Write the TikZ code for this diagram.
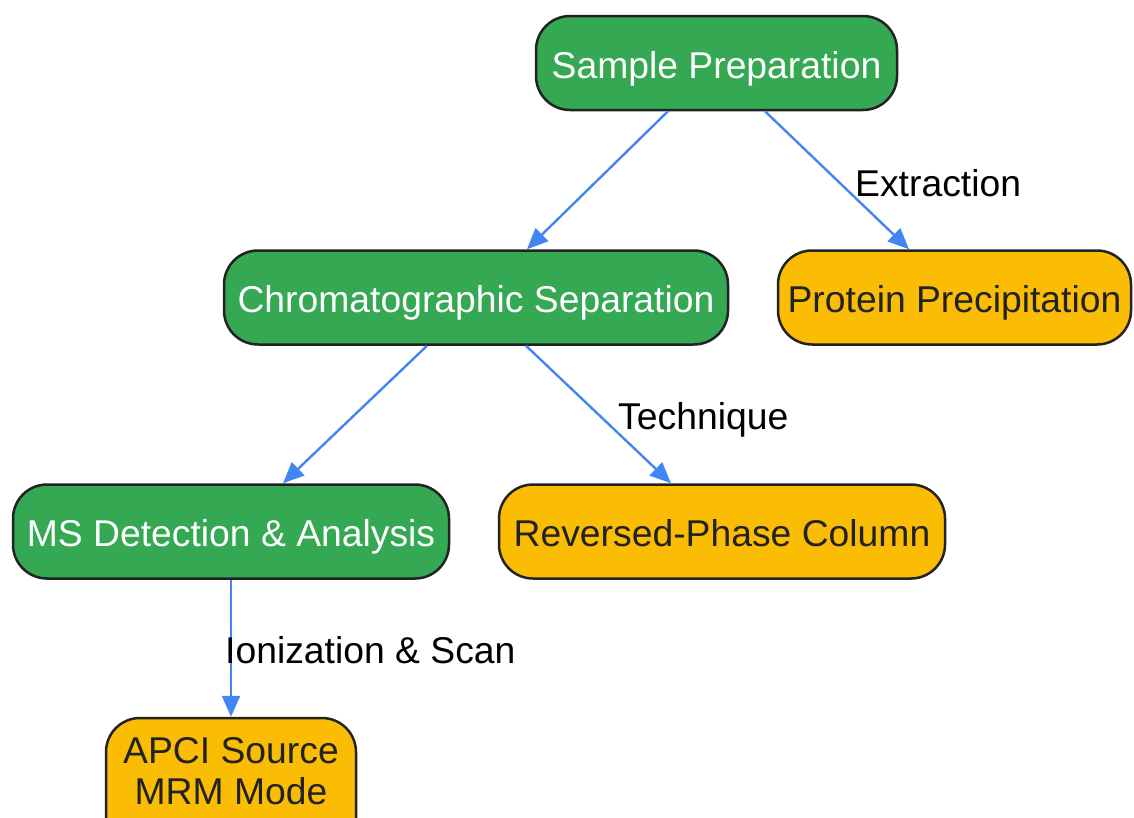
\documentclass[tikz,border=0pt]{standalone}
\usepackage{fontspec}
\setmainfont{Liberation Sans}
\usetikzlibrary{arrows.meta}
\definecolor{stepgreen}{HTML}{34A853}
\definecolor{stepyellow}{HTML}{FBBC04}
\definecolor{linkblue}{HTML}{4285F4}
\definecolor{edgedark}{HTML}{222222}
\tikzset{
	greenbox/.style={draw=edgedark, line width=2.5pt, fill=stepgreen, text=white, rounded corners=34pt, minimum height=94pt, inner sep=0pt, align=center, text height=35.4pt, text depth=4.8pt},
	yellowbox/.style={greenbox, fill=stepyellow, text=edgedark},
	link/.style={draw=linkblue, line width=2.4pt, -{Triangle[length=21pt,width=18pt]}},
	linklabel/.style={anchor=base west, inner sep=0pt, text=black}
}

\begin{document}
\begin{tikzpicture}[x=1pt, y=-1pt, every node/.style={font=\fontsize{37.3}{41}\selectfont}]
			%%%%% START %%%%%
			
			\useasboundingbox (0, 0) rectangle (1134, 817);
			
			\node[greenbox, minimum width=361pt] (sample) at (716.5, 63) {Sample Preparation};
			
			\node[greenbox, minimum width=504pt] (chrom) at (476, 297.5) {Chromatographic Separation};
			\node[yellowbox, minimum width=353pt] (protein) at (954.5, 297.5) {Protein Precipitation};
			
			\node[greenbox, minimum width=436pt] (ms) at (231, 531.5) {MS Detection \& Analysis};
			\node[yellowbox, minimum width=446pt] (column) at (722, 531.5) {Reversed-Phase Column};
			
			\node[yellowbox, minimum width=250pt, minimum height=135pt, text height=43.4pt] (apci) at (231, 785.5) {APCI Source\\MRM Mode};
			
			\draw[link] ([xshift=-48.5pt]sample.south) -- ([xshift=51pt]chrom.north);
			\draw[link] ([xshift=48.5pt]sample.south) -- ([xshift=-45.5pt]protein.north);
			\draw[link] ([xshift=-49pt]chrom.south) -- ([xshift=52pt]ms.north);
			\draw[link] ([xshift=50pt]chrom.south) -- ([xshift=-51pt]column.north);
			\draw[link] (ms.south) -- (apci.north);
			
			\node[linklabel] (extraction) at (855, 196) {Extraction};
			\node[linklabel] (technique) at (618, 429) {Technique};
			\node[linklabel] (ionization) at (225, 663) {Ionization \& Scan};
			
			%%%%% END %%%%%
		\end{tikzpicture}
\end{document}
